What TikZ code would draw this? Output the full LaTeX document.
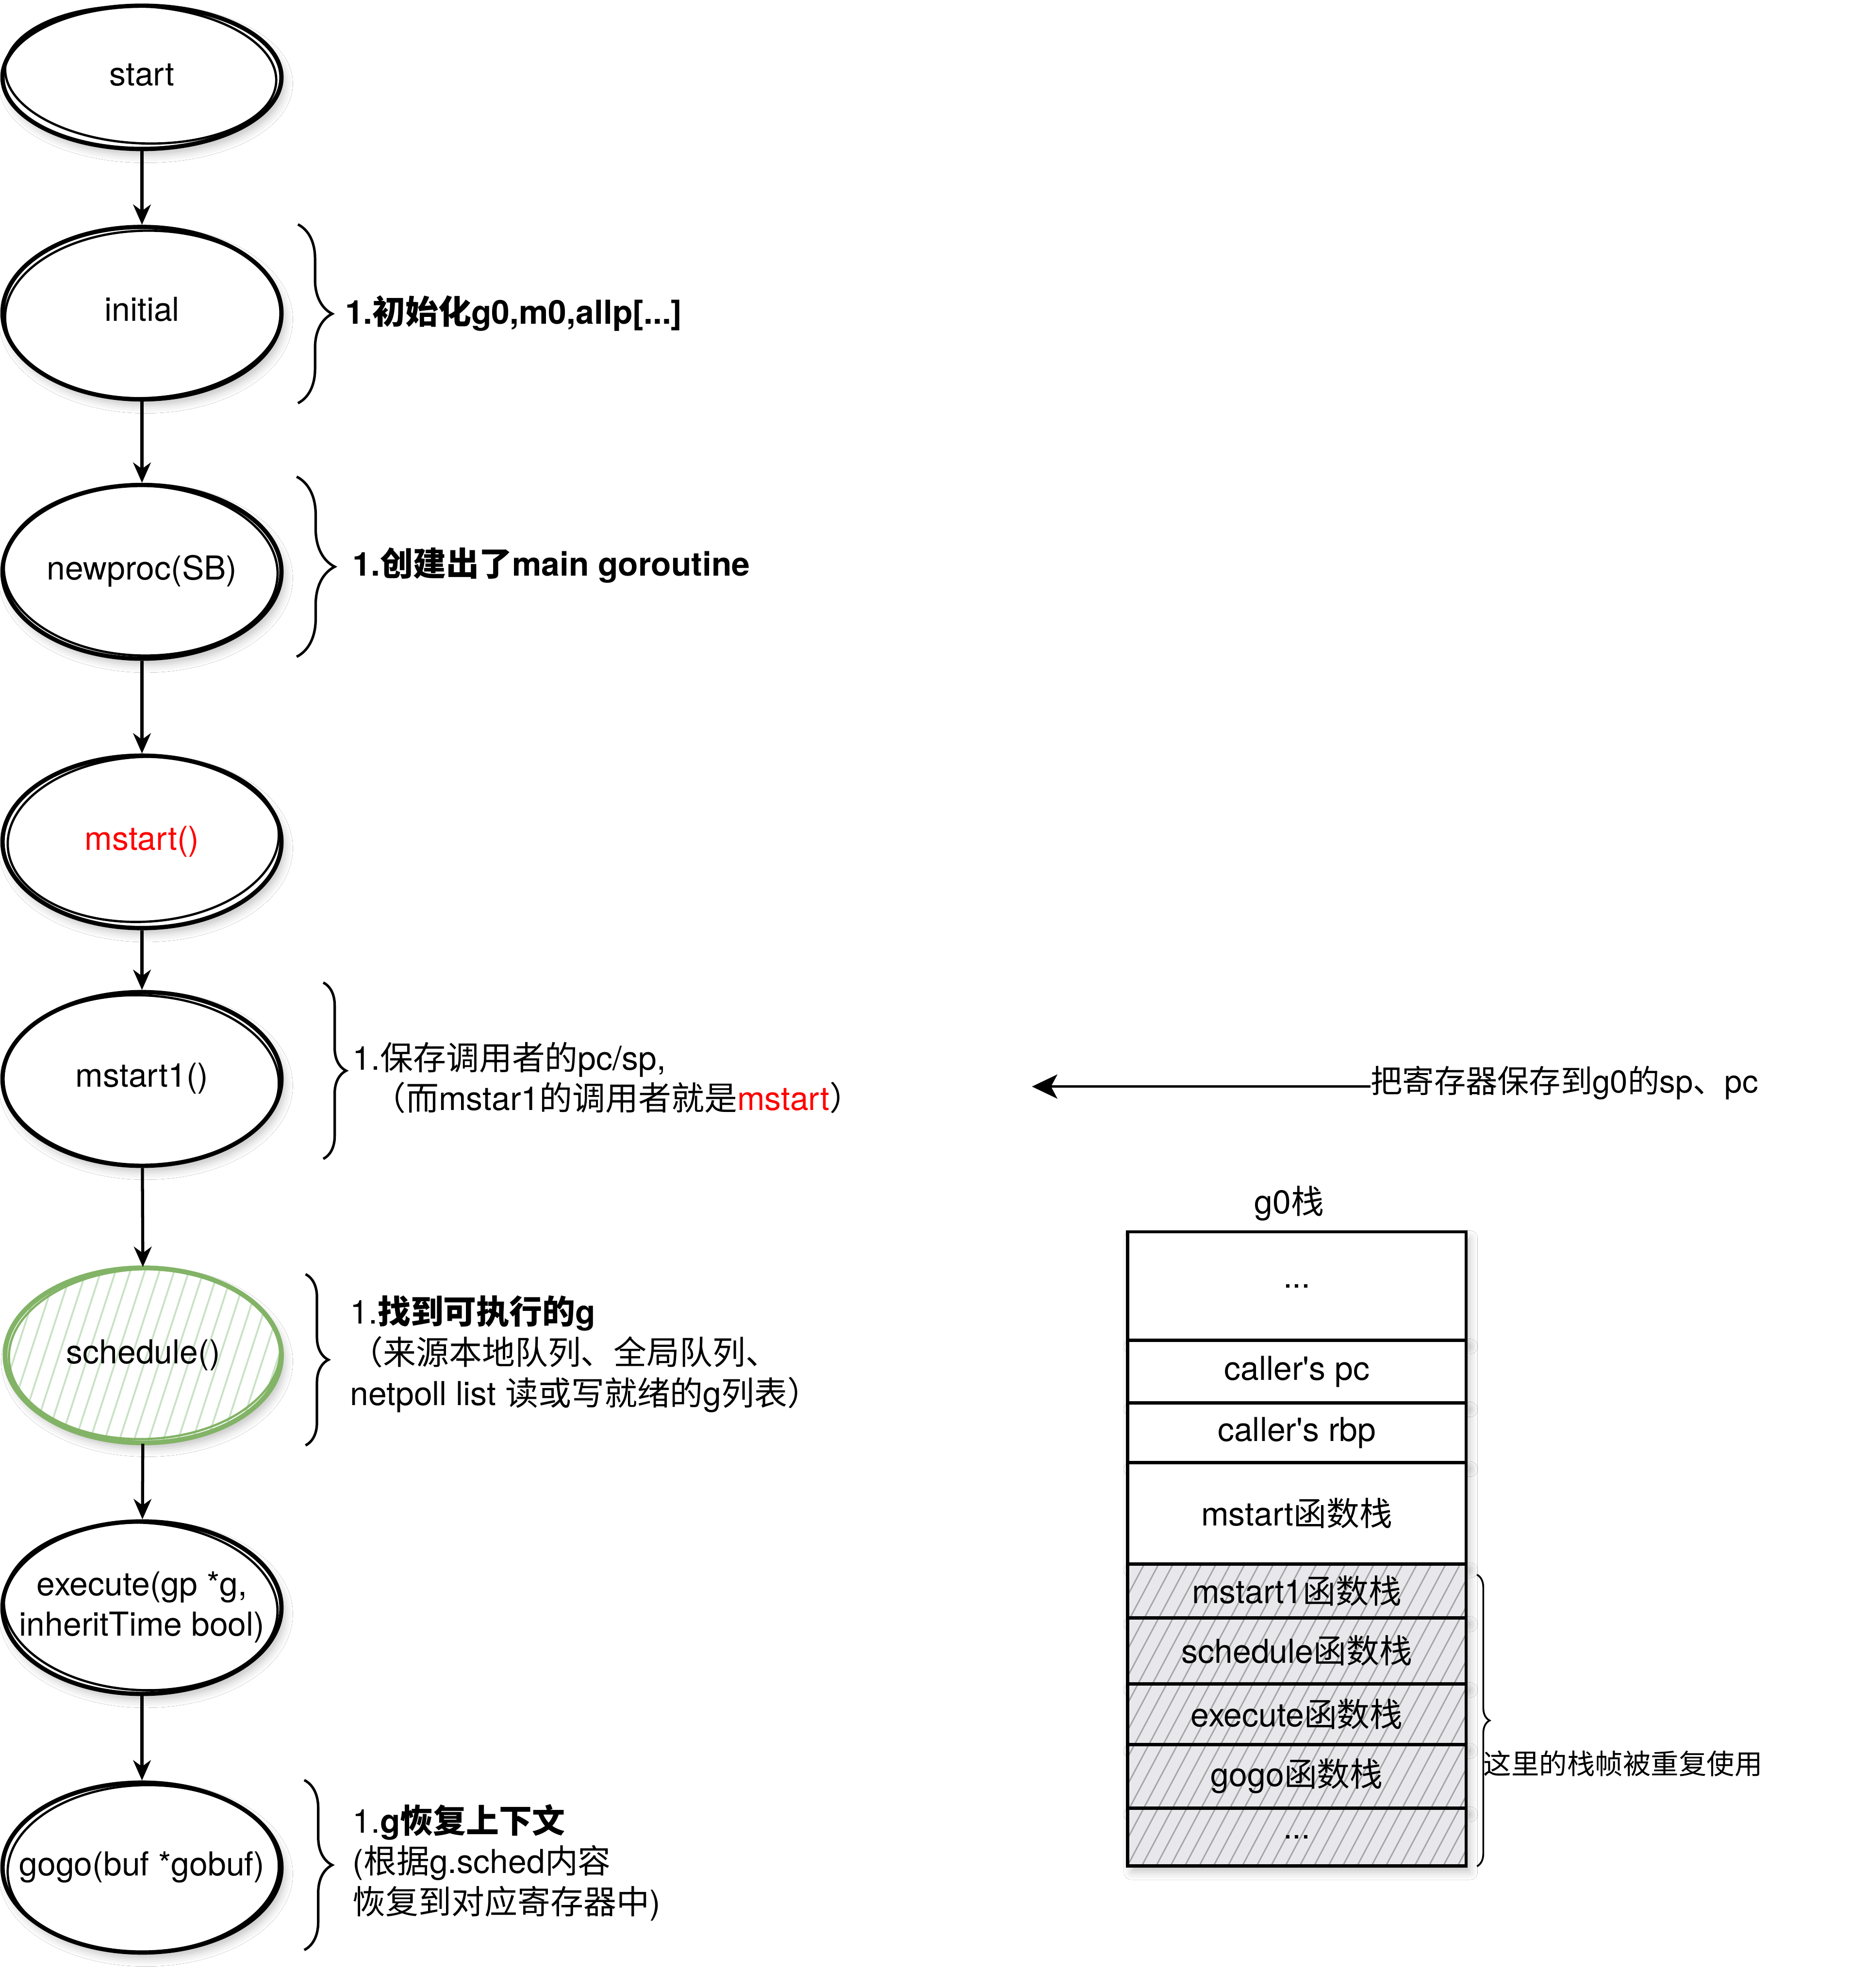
\documentclass[tikz,border=0pt]{standalone}
\usepackage{fontspec}
\setmainfont{TeX Gyre Heros}[Ligatures=TeXOff]
\newfontfamily\cjk{Noto Sans CJK SC}
\usetikzlibrary{shapes.geometric,arrows.meta,decorations.pathreplacing,patterns.meta,shadows.blur}
\newcommand\zh[1]{{\cjk #1}}
\newcommand\ctext[1]{\makebox[0pt]{\begin{tabular}{@{}c@{}}#1\end{tabular}}}
\definecolor{hatchgreen}{RGB}{200,226,196}
\definecolor{schedgreen}{RGB}{130,179,102}
\definecolor{stackfill}{RGB}{232,232,236}
\definecolor{stackhatch}{RGB}{165,165,165}
\tikzset{
  softshadow/.style={blur shadow={shadow xshift=3pt,shadow yshift=-5pt,shadow blur radius=6pt,shadow opacity=22}},
  proc/.style={ellipse,draw=black,line width=3.4pt,fill=white,minimum width=220pt,minimum height=136pt,
    inner sep=0pt,align=center,font=\fontsize{26}{32}\selectfont,softshadow},
  sketchline/.style={draw=black,line width=1.8pt},
  flow/.style={draw=black,line width=2.4pt,-{Stealth[length=16pt,width=14pt,inset=5pt]}},
  note/.style={anchor=west,align=left,inner sep=0pt,font=\fontsize{26}{32}\selectfont},
  bracestyle/.style={draw=black,line width=2pt,decorate},
  stackbox/.style={rectangle,draw=black,line width=2.6pt,fill=white,minimum width=267pt,inner sep=0pt,
    font=\fontsize{26}{32}\selectfont,softshadow},
  stackhatched/.style={stackbox,preaction={fill=stackfill},
    pattern={Lines[angle=62,distance=10pt,line width=1.1pt]},pattern color=stackhatch},
}
\begin{document}
\begin{tikzpicture}[x=1pt,y=-1pt]
\fill[white] (0,0) rectangle (1459,1568);
\useasboundingbox (0,0) rectangle (1459,1568);

% ---------- flow nodes ----------
\node[proc,minimum height=113pt] (start) at (112,61) {\ctext{start}};
\node[proc] (initial) at (112,247) {\ctext{initial}};
\node[proc,minimum height=137pt] (newproc) at (112,451) {\ctext{newproc(SB)}};
\node[proc,text=red] (mstart) at (112,664) {\ctext{mstart()}};
\node[proc,minimum height=137pt] (mstartone) at (112,851) {\ctext{mstart1()}};
\node[proc,draw=schedgreen,line width=3.8pt,minimum width=218pt,minimum height=138pt,
      preaction={fill=white},pattern={Lines[angle=72,distance=11pt,line width=1.4pt]},pattern color=hatchgreen]
      (schedule) at (113,1069) {\ctext{schedule()}};
\node[proc] (execute) at (112,1268) {\ctext{execute(gp *g,\\inheritTime bool)}};
\node[proc,minimum height=134pt] (gogo) at (112,1473) {\ctext{gogo(buf *gobuf)}};

% sketchy second strokes
\draw[sketchline] ([xshift=-1pt,yshift=2pt]start.center) ellipse [x radius=107pt,y radius=54pt,rotate=-3];
\draw[sketchline] ([xshift=1pt,yshift=-1pt]initial.center) ellipse [x radius=109pt,y radius=66pt,rotate=2];
\draw[sketchline] ([xshift=-1pt,yshift=1pt]newproc.center) ellipse [x radius=108pt,y radius=67pt,rotate=-2];
\draw[sketchline] ([xshift=1pt,yshift=2pt]mstart.center) ellipse [x radius=107pt,y radius=65pt,rotate=3];
\draw[sketchline] ([xshift=-1pt,yshift=-1pt]mstartone.center) ellipse [x radius=109pt,y radius=67pt,rotate=-2];
\draw[sketchline,draw=schedgreen] ([xshift=1pt,yshift=1pt]schedule.center) ellipse [x radius=107pt,y radius=67pt,rotate=2];
\draw[sketchline] ([xshift=-1pt,yshift=1pt]execute.center) ellipse [x radius=108pt,y radius=66pt,rotate=-3];
\draw[sketchline] ([xshift=1pt,yshift=-1pt]gogo.center) ellipse [x radius=107pt,y radius=66pt,rotate=2];

% ---------- flow arrows ----------
\draw[flow] (start) -- (initial);
\draw[flow] (initial) -- (newproc);
\draw[flow] (newproc) -- (mstart);
\draw[flow] (mstart) -- (mstartone);
\draw[flow] (mstartone) -- (schedule);
\draw[flow] (schedule) -- (execute);
\draw[flow] (execute) -- (gogo);

% ---------- braces ----------
\draw[bracestyle,decoration={brace,amplitude=27pt}] (235,177) -- (235,318);
\draw[bracestyle,decoration={brace,amplitude=30pt}] (234,376) -- (234,518);
\draw[bracestyle,decoration={brace,amplitude=18pt}] (255,775) -- (255,914);
\draw[bracestyle,decoration={brace,amplitude=18pt}] (241,1005) -- (241,1140);
\draw[bracestyle,decoration={brace,amplitude=22pt}] (240,1404) -- (240,1538);

% ---------- notes ----------
\node[note] (noteinit) at (272,247) {\textbf{1.\zh{初始化}g0,m0,allp[...]}};
\node[note] (notenew) at (278,446) {\textbf{1.\zh{创建出了}main goroutine}};
\node[note] (notemstart) at (278,850) {1.\zh{保存调用者的}pc/sp,\\\hspace*{16pt}\zh{（而}mstar1\zh{的调用者就是}\textcolor{red}{mstart}\zh{）}};
\node[note] (notesched) at (276,1068) {1.\textbf{\zh{找到可执行的}g}\\\zh{（来源本地队列、全局队列、}\\netpoll list \zh{读或写就绪的}g\zh{列表）}};
\node[note] (notegogo) at (278,1469) {1.\textbf{g\zh{恢复上下文}}\\(\zh{根据}g.sched\zh{内容}\\\zh{恢复到对应寄存器中})};

% ---------- register arrow ----------
\node[note,font=\fontsize{25}{30}\selectfont] (regtext) at (1081,854) {\zh{把寄存器保存到}g0\zh{的}sp\zh{、}pc};
\coordinate (regtip) at (814,857);
\draw[line width=2pt,-{Stealth[length=20pt,width=19pt,inset=5pt]}] (regtext.west |- regtip) -- (regtip);

% ---------- g0 stack ----------
\node[font=\fontsize{26}{32}\selectfont] (gtitle) at (1017,949) {g0\zh{栈}};
\node[stackbox,minimum height=85.4pt] (sa) at (1023,1014.3) {...};
\node[stackbox,minimum height=49.6pt] (sb) at (1023,1081.8) {caller's pc};
\node[stackbox,minimum height=47.1pt] (sc) at (1023,1130.2) {caller's rbp};
\node[stackbox,minimum height=79.8pt] (sd) at (1023,1193.6) {mstart\zh{函数栈}};
\node[stackhatched,minimum height=42.5pt] (se) at (1023,1254.8) {mstart1\zh{函数栈}};
\node[stackhatched,minimum height=52pt] (sf) at (1023,1302) {schedule\zh{函数栈}};
\node[stackhatched,minimum height=48pt] (sg) at (1023,1352) {execute\zh{函数栈}};
\node[stackhatched,minimum height=50pt] (sh) at (1023,1401) {gogo\zh{函数栈}};
\node[stackhatched,minimum height=45.6pt] (si) at (1023,1448.8) {...};

\draw[draw=black,line width=1.4pt,decorate,decoration={brace,amplitude=10pt}] (1165,1242) -- (1165,1472);
\node[note,font=\fontsize{22}{26}\selectfont] (reuse) at (1170,1391) {\zh{这里的栈帧被重复使用}};
\end{tikzpicture}
\end{document}
